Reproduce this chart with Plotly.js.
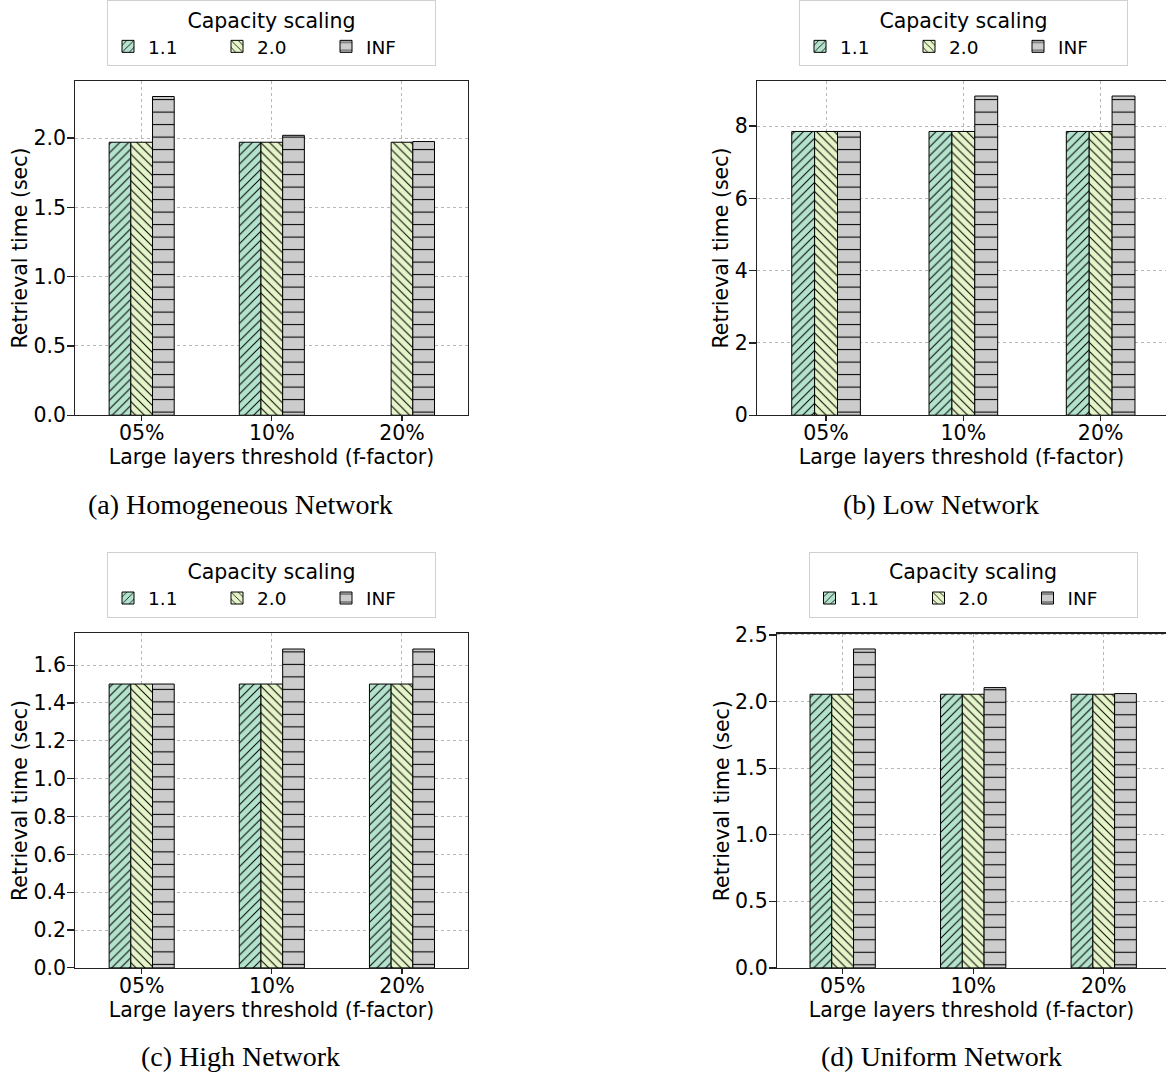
<!DOCTYPE html>
<html>
<head>
<meta charset="utf-8">
<script src="https://cdn.plot.ly/plotly-3.0.1.min.js"></script>
<style>
html,body{margin:0;padding:0;background:#fff;}
#chart{width:1166px;height:1073px;}
</style>
</head>
<body>
<div id="chart"></div>
<script>
// ---- data ----
const categories = ['05%', '10%', '20%'];
const seriesNames = ['1.1', '2.0', 'INF'];

const homogeneous11 = [1.97, 1.97, null];
const homogeneous20 = [1.97, 1.97, 1.97];
const homogeneousInf = [2.30, 2.02, 1.975];

const low11 = [7.85, 7.85, 7.85];
const low20 = [7.85, 7.85, 7.85];
const lowInf = [7.85, 8.83, 8.83];

const high11 = [1.50, 1.50, 1.50];
const high20 = [1.50, 1.50, 1.50];
const highInf = [1.50, 1.685, 1.685];

const uniform11 = [2.055, 2.055, 2.055];
const uniform20 = [2.055, 2.055, 2.055];
const uniformInf = [2.395, 2.105, 2.06];

const captions = ['(a) Homogeneous Network', '(b) Low Network', '(c) High Network', '(d) Uniform Network'];

// ---- styles ----
const fillColors = ['#b3e2cd', '#e6f5c9', '#cccccc'];
const hatchShapes = ['/', '\\', '-'];
const hatchSizes = [6.25, 6.25, 12.5];
const hatchSolidity = [0.16, 0.16, 0.085];
const FONT = 'DejaVu Sans, sans-serif';

const panels = [
  {series: [homogeneous11, homogeneous20, homogeneousInf], xa: 'x', ya: 'y', legend: 'legend'},
  {series: [low11, low20, lowInf], xa: 'x2', ya: 'y2', legend: 'legend2'},
  {series: [high11, high20, highInf], xa: 'x3', ya: 'y3', legend: 'legend3'},
  {series: [uniform11, uniform20, uniformInf], xa: 'x4', ya: 'y4', legend: 'legend4'}
];

const traces = [];
panels.forEach(p => {
  p.series.forEach((vals, i) => {
    traces.push({
      type: 'bar',
      x: categories,
      y: vals,
      name: seriesNames[i],
      xaxis: p.xa,
      yaxis: p.ya,
      legend: p.legend,
      marker: {
        color: fillColors[i],
        line: {color: '#000000', width: 1},
        pattern: {shape: hatchShapes[i], fillmode: 'overlay', fgcolor: '#000000', fgopacity: 1,
                  size: hatchSizes[i], solidity: hatchSolidity[i]}
      },
      hoverinfo: 'skip'
    });
  });
});

const W = 1166, H = 1073;
function xd(a, b) { return [a / W, Math.min(b / W, 1)]; }
function yd(top, bottom) { return [1 - bottom / H, 1 - top / H]; }

function xaxis(domain, range, anchor, mirror) {
  return {
    domain: domain, range: range, anchor: anchor, type: 'category',
    showline: true, linecolor: '#222', linewidth: 1.2, mirror: mirror,
    ticks: 'outside', ticklen: 5, tickwidth: 1.2, tickcolor: '#222',
    ticklabelstandoff: -6,
    showgrid: true, gridcolor: '#b8b8b8', griddash: 'dot', gridwidth: 1,
    tickfont: {family: FONT, size: 20.5, color: '#000'},
    title: {text: 'Large layers threshold (f-factor)', font: {family: FONT, size: 20.5, color: '#000'}, standoff: 2},
    automargin: false, zeroline: false, fixedrange: true
  };
}
function yaxis(domain, range, anchor, dtick, fmt, mirror) {
  return {
    domain: domain, range: range, anchor: anchor,
    showline: true, linecolor: '#222', linewidth: 1.2, mirror: mirror,
    ticks: 'outside', ticklen: 7, tickwidth: 1.2, tickcolor: '#222',
    ticklabelstandoff: -3,
    tick0: 0, dtick: dtick, tickformat: fmt,
    showgrid: true, gridcolor: '#b8b8b8', griddash: 'dot', gridwidth: 1,
    tickfont: {family: FONT, size: 20.5, color: '#000'},
    title: {text: 'Retrieval time (sec)', font: {family: FONT, size: 20.5, color: '#000'}, standoff: 0},
    automargin: false, zeroline: false, fixedrange: true
  };
}
function legend(xc, ybottom) {
  return {
    x: xc / W, xanchor: 'center', y: 1 - ybottom / H, yanchor: 'bottom',
    orientation: 'h', bgcolor: '#ffffff', bordercolor: '#d0d0d0', borderwidth: 1,
    font: {family: FONT, size: 18.5, color: '#000'},
    title: {text: 'Capacity scaling', side: 'top center', font: {family: FONT, size: 20.5, color: '#000'}},
    entrywidth: 64, entrywidthmode: 'pixels', traceorder: 'normal', itemclick: false, itemdoubleclick: false
  };
}

const annotations = [
  [240, 503], [941.5, 503], [240, 1056.7], [941.5, 1056.7]
].map((pos, i) => ({
  text: captions[i], xref: 'paper', yref: 'paper', x: pos[0] / W, y: 1 - pos[1] / H,
  xanchor: 'center', yanchor: 'middle', showarrow: false,
  font: {family: 'Liberation Serif, serif', size: 28, color: '#000'}
}));

const layout = {
  width: W, height: H,
  margin: {l: 0, r: 0, t: 0, b: 0},
  paper_bgcolor: '#ffffff', plot_bgcolor: '#ffffff',
  barmode: 'group', bargap: 0.5, bargroupgap: 0,
  showlegend: true,
  xaxis: xaxis(xd(75.3, 467.7), [-0.51, 2.505], 'y', true),
  yaxis: yaxis(yd(79, 414), [0, 2.413], 'x', 0.5, '.1f', true),
  xaxis2: xaxis(xd(757, 1166), [-0.503, 2.476], 'y2', true),
  yaxis2: yaxis(yd(79, 414), [0, 9.25], 'x2', 2, 'd', false),
  xaxis3: xaxis(xd(75.3, 467.7), [-0.51, 2.505], 'y3', true),
  yaxis3: yaxis(yd(632.3, 967.7), [0, 1.769], 'x3', 0.2, '.1f', true),
  xaxis4: xaxis(xd(777, 1166), [-0.503, 2.477], 'y4', true),
  yaxis4: yaxis(yd(632.7, 967.7), [0, 2.511], 'x4', 0.5, '.1f', false),
  legend: legend(271.5, 64.3),
  legend2: legend(963.5, 64.3),
  legend3: legend(271.5, 617),
  legend4: legend(973, 617),
  annotations: annotations
};

Plotly.newPlot('chart', traces, layout, {displayModeBar: false, staticPlot: true});
</script>
</body>
</html>
